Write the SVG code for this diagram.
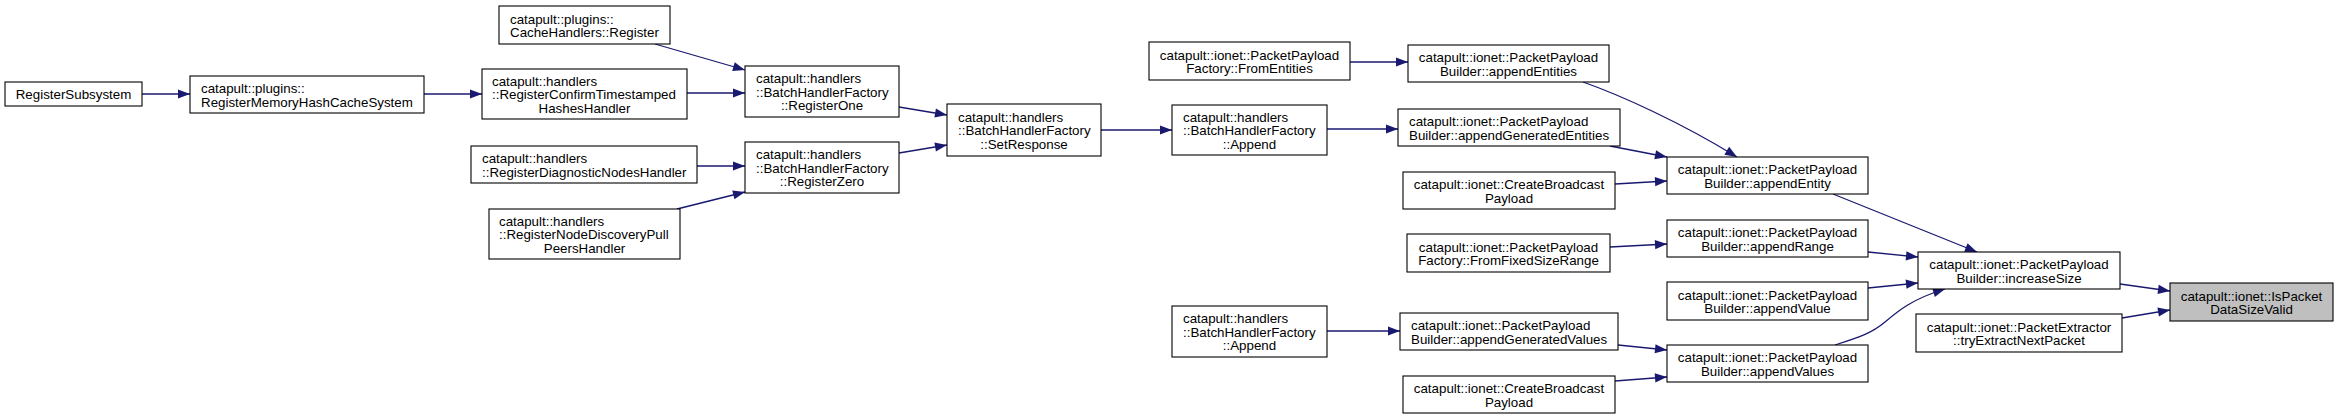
<svg xmlns="http://www.w3.org/2000/svg" width="2338" height="419" viewBox="0 0 2338 419">
<style>
.n rect{fill:#fff;stroke:#000;stroke-width:1.1}
.n text{font-family:"Liberation Sans",Arial,Helvetica,sans-serif;font-size:13.33px;fill:#000}
.c{text-anchor:middle}
.e path{fill:none;stroke:#191970;stroke-width:1.3;marker-end:url(#arr)}
</style>
<defs>
<marker id="arr" markerUnits="userSpaceOnUse" markerWidth="14" markerHeight="11" refX="12" refY="4.6" orient="auto" overflow="visible">
<path d="M0,0 L12,4.6 L0,9.2 z" fill="#191970"/>
</marker>
</defs>
<rect width="2338" height="419" fill="#fff"/>
<g id="edges" class="e">
<path d="M142,94 L190,94"/>
<path d="M424,94 L482,94"/>
<path d="M655,44 L745,70"/>
<path d="M687,93 L745,93"/>
<path d="M697,166 L745,166"/>
<path d="M677,209 L745,192"/>
<path d="M899,107 L947,115"/>
<path d="M899,153 L947,145"/>
<path d="M1101,130 L1172,130"/>
<path d="M1350,62 L1408,62"/>
<path d="M1327,129 L1398,129"/>
<path d="M1327,331 L1400,331"/>
<path d="M1583,82 C1620,95 1680,122 1737,157"/>
<path d="M1610,146 L1667,157"/>
<path d="M1615,184 L1667,181"/>
<path d="M1610,247 L1667,244"/>
<path d="M1618,345 L1667,350"/>
<path d="M1615,381 L1667,377"/>
<path d="M1833,194 L1977,252"/>
<path d="M1868,252 L1918,257"/>
<path d="M1868,288 L1918,283"/>
<path d="M1835,345 C1860,337 1872,333 1885,322 C1898,311 1912,299 1945,289"/>
<path d="M2120,284 L2170,291"/>
<path d="M2122,318 L2170,310"/>
</g>
<g id="RegisterSubsystem" class="n"><rect x="5" y="82" width="137" height="24"/><text class="c" x="73.5" y="99">RegisterSubsystem</text></g>
<g id="RegisterMemoryHashCacheSystem" class="n"><rect x="190" y="76" width="234" height="37"/><text x="201" y="93">catapult::plugins::</text><text x="201" y="106.5">RegisterMemoryHashCacheSystem</text></g>
<g id="CacheHandlersRegister" class="n"><rect x="499" y="6" width="171" height="38"/><text x="510" y="23.5">catapult::plugins::</text><text x="510" y="37">CacheHandlers::Register</text></g>
<g id="RegisterConfirmTimestampedHashesHandler" class="n"><rect x="482" y="69" width="205" height="50"/><text x="492" y="85.5">catapult::handlers</text><text x="492" y="99">::RegisterConfirmTimestamped</text><text class="c" x="584.5" y="112.5">HashesHandler</text></g>
<g id="RegisterDiagnosticNodesHandler" class="n"><rect x="471" y="146" width="226" height="37"/><text x="482" y="163">catapult::handlers</text><text x="482" y="176.5">::RegisterDiagnosticNodesHandler</text></g>
<g id="RegisterNodeDiscoveryPullPeersHandler" class="n"><rect x="489" y="209" width="191" height="50"/><text x="499" y="225.5">catapult::handlers</text><text x="499" y="239">::RegisterNodeDiscoveryPull</text><text class="c" x="584.5" y="252.5">PeersHandler</text></g>
<g id="RegisterOne" class="n"><rect x="745" y="66" width="154" height="51"/><text x="756" y="83">catapult::handlers</text><text x="756" y="96.5">::BatchHandlerFactory</text><text class="c" x="822" y="110">::RegisterOne</text></g>
<g id="RegisterZero" class="n"><rect x="745" y="142" width="154" height="51"/><text x="756" y="159">catapult::handlers</text><text x="756" y="172.5">::BatchHandlerFactory</text><text class="c" x="822" y="186">::RegisterZero</text></g>
<g id="SetResponse" class="n"><rect x="947" y="104" width="154" height="52"/><text x="958" y="121.5">catapult::handlers</text><text x="958" y="135">::BatchHandlerFactory</text><text class="c" x="1024" y="148.5">::SetResponse</text></g>
<g id="Append1" class="n"><rect x="1172" y="105" width="155" height="50"/><text x="1183" y="121.5">catapult::handlers</text><text x="1183" y="135">::BatchHandlerFactory</text><text class="c" x="1249.5" y="148.5">::Append</text></g>
<g id="Append2" class="n"><rect x="1172" y="306" width="155" height="51"/><text x="1183" y="323">catapult::handlers</text><text x="1183" y="336.5">::BatchHandlerFactory</text><text class="c" x="1249.5" y="350">::Append</text></g>
<g id="FromEntities" class="n"><rect x="1149" y="42" width="201" height="38"/><text class="c" x="1249.5" y="59.5">catapult::ionet::PacketPayload</text><text class="c" x="1249.5" y="73">Factory::FromEntities</text></g>
<g id="appendEntities" class="n"><rect x="1408" y="45" width="201" height="37"/><text class="c" x="1508.5" y="62">catapult::ionet::PacketPayload</text><text class="c" x="1508.5" y="75.5">Builder::appendEntities</text></g>
<g id="appendGeneratedEntities" class="n"><rect x="1398" y="109" width="222" height="37"/><text x="1409" y="126">catapult::ionet::PacketPayload</text><text x="1409" y="139.5">Builder::appendGeneratedEntities</text></g>
<g id="CreateBroadcastPayload1" class="n"><rect x="1403" y="172" width="212" height="37"/><text class="c" x="1509" y="189">catapult::ionet::CreateBroadcast</text><text class="c" x="1509" y="202.5">Payload</text></g>
<g id="FromFixedSizeRange" class="n"><rect x="1407" y="234" width="203" height="38"/><text class="c" x="1508.5" y="251.5">catapult::ionet::PacketPayload</text><text class="c" x="1508.5" y="265">Factory::FromFixedSizeRange</text></g>
<g id="appendGeneratedValues" class="n"><rect x="1400" y="313" width="218" height="37"/><text x="1411" y="330">catapult::ionet::PacketPayload</text><text x="1411" y="343.5">Builder::appendGeneratedValues</text></g>
<g id="CreateBroadcastPayload2" class="n"><rect x="1403" y="376" width="212" height="37"/><text class="c" x="1509" y="393">catapult::ionet::CreateBroadcast</text><text class="c" x="1509" y="406.5">Payload</text></g>
<g id="appendEntity" class="n"><rect x="1667" y="157" width="201" height="37"/><text class="c" x="1767.5" y="174">catapult::ionet::PacketPayload</text><text class="c" x="1767.5" y="187.5">Builder::appendEntity</text></g>
<g id="appendRange" class="n"><rect x="1667" y="220" width="201" height="37"/><text class="c" x="1767.5" y="237">catapult::ionet::PacketPayload</text><text class="c" x="1767.5" y="250.5">Builder::appendRange</text></g>
<g id="appendValue" class="n"><rect x="1667" y="282" width="201" height="38"/><text class="c" x="1767.5" y="299.5">catapult::ionet::PacketPayload</text><text class="c" x="1767.5" y="313">Builder::appendValue</text></g>
<g id="appendValues" class="n"><rect x="1667" y="345" width="201" height="37"/><text class="c" x="1767.5" y="362">catapult::ionet::PacketPayload</text><text class="c" x="1767.5" y="375.5">Builder::appendValues</text></g>
<g id="increaseSize" class="n"><rect x="1918" y="252" width="202" height="37"/><text class="c" x="2019" y="269">catapult::ionet::PacketPayload</text><text class="c" x="2019" y="282.5">Builder::increaseSize</text></g>
<g id="tryExtractNextPacket" class="n"><rect x="1916" y="314" width="206" height="38"/><text class="c" x="2019" y="331.5">catapult::ionet::PacketExtractor</text><text class="c" x="2019" y="345">::tryExtractNextPacket</text></g>
<g id="IsPacketDataSizeValid" class="n"><rect x="2170" y="283" width="163" height="38" style="fill:#bfbfbf"/><text class="c" x="2251.5" y="300.5">catapult::ionet::IsPacket</text><text class="c" x="2251.5" y="314">DataSizeValid</text></g>
</svg>
